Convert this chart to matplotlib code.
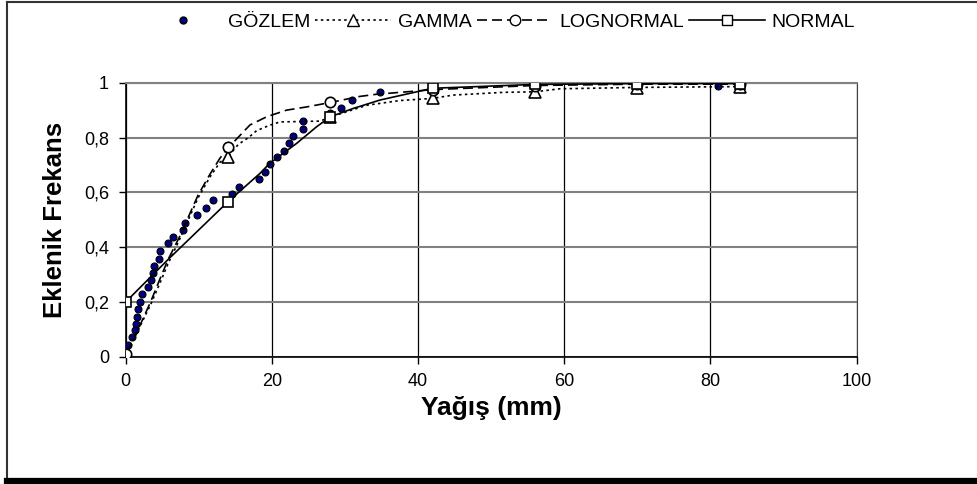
import matplotlib
matplotlib.use("Agg")
import matplotlib.pyplot as plt
from matplotlib.lines import Line2D

plt.rcParams['font.family'] = ['Liberation Sans', 'DejaVu Sans']

# observed cumulative frequencies
obs_x = [0, 0.3, 0.9, 1.2, 1.4, 1.6, 1.7, 1.9, 2.2, 3.0, 3.5, 3.7, 3.9, 4.5, 4.7,
         5.8, 6.5, 7.8, 8.1, 9.8, 11.0, 12.0, 14.5, 15.5, 18.3, 19.1, 19.8, 20.7,
         21.6, 22.3, 22.9, 24.2, 24.2, 28.0, 29.4, 31.0, 34.8, 81.0]
obs_y = [0.012, 0.043, 0.071, 0.097, 0.12, 0.146, 0.174, 0.2, 0.228, 0.256, 0.28,
         0.305, 0.331, 0.358, 0.386, 0.414, 0.436, 0.462, 0.489, 0.517, 0.544,
         0.572, 0.593, 0.618, 0.647, 0.674, 0.702, 0.728, 0.752, 0.779, 0.806,
         0.832, 0.861, 0.888, 0.907, 0.937, 0.965, 0.99]

# fitted distribution curves
gamma_x = [0, 1.7, 3.4, 4.7, 5.8, 7.4, 9.9, 11.5, 12.9, 14, 15.4, 16.8, 17.9, 19.7,
           21.1, 26.6, 28, 33, 37.5, 42, 44.8, 51.7, 56, 59.4, 70, 84]
gamma_y = [0, 0.097, 0.19, 0.27, 0.34, 0.43, 0.58, 0.655, 0.71, 0.73, 0.775, 0.80,
           0.825, 0.845, 0.857, 0.86, 0.875, 0.918, 0.935, 0.943, 0.955, 0.965,
           0.967, 0.978, 0.983, 0.986]
logn_x = [0, 1.7, 3.4, 4.7, 5.8, 7.4, 9.9, 11.5, 12.9, 14, 17, 19.3, 22, 24.8, 28,
          32, 34.3, 36.2, 42, 56, 70, 84]
logn_y = [0.01, 0.1, 0.2, 0.285, 0.355, 0.44, 0.59, 0.665, 0.725, 0.762, 0.846,
          0.876, 0.9, 0.912, 0.928, 0.95, 0.958, 0.962, 0.975, 0.99, 0.995, 0.995]
norm_x = [0, 5.8, 14, 18.4, 19.7, 23.4, 26.1, 28, 31.1, 34.8, 42, 47.1, 56, 70, 84]
norm_y = [0.2, 0.355, 0.566, 0.67, 0.706, 0.779, 0.839, 0.876, 0.906, 0.937, 0.98,
          0.985, 0.994, 0.997, 0.997]

# class marks where the fitted values are marked
mark_x = [0, 14, 28, 42, 56, 70, 84]
gamma_mark = [0, 0.73, 0.875, 0.943, 0.967, 0.982, 0.985]
logn_mark = [0.01, 0.765, 0.928, 0.975, 0.99, 0.995, 0.995]
norm_mark = [0.2, 0.566, 0.876, 0.98, 0.994, 0.997, 0.997]

x_ticks = [0, 20, 40, 60, 80, 100]
y_ticks = [0, 0.2, 0.4, 0.6, 0.8, 1.0]
y_ticklabels = ['0', '0,2', '0,4', '0,6', '0,8', '1']

fig = plt.figure(figsize=(9.77, 4.84), dpi=100)
ax = fig.add_axes([0.1287, 0.263, 0.748, 0.566])

ax.plot(obs_x, obs_y, ls='none', marker='o', ms=5, mfc='#000080', mec='black',
        mew=0.8, zorder=3)

ax.plot(gamma_x, gamma_y, color='black', ls=(0, (1.5, 2)), lw=1.2, zorder=4)
ax.plot(mark_x, gamma_mark, ls='none', marker='^', ms=8, mfc='white',
        mec='black', mew=1.2, zorder=5)
ax.plot(logn_x, logn_y, color='black', ls=(0, (6, 3)), lw=1.2, zorder=4)
ax.plot(mark_x, logn_mark, ls='none', marker='o', ms=7.5, mfc='white',
        mec='black', mew=1.2, zorder=5)
ax.plot(norm_x, norm_y, color='black', ls='-', lw=1.2, zorder=4)
ax.plot(mark_x, norm_mark, ls='none', marker='s', ms=7, mfc='white',
        mec='black', mew=1.2, zorder=5)

ax.set_xlim(0, 100)
ax.set_ylim(0, 1)
ax.set_xticks(x_ticks)
ax.set_yticks(y_ticks)
ax.set_yticklabels(y_ticklabels)
ax.tick_params(direction='out', length=5, width=1, labelsize=13, pad=7)
ax.yaxis.grid(True, color='#808080', lw=1.5)
ax.xaxis.grid(True, color='black', lw=0.9)
ax.set_axisbelow(True)
for side in ['left', 'bottom']:
    ax.spines[side].set_linewidth(1.2)
ax.spines['top'].set_color('#808080')
ax.spines['top'].set_linewidth(1.5)
ax.spines['right'].set_color('#404040')

ax.set_xlabel('Yağış (mm)', fontsize=19, fontweight='bold', labelpad=4)
ax.set_ylabel('Eklenik Frekans', fontsize=18.5, fontweight='bold', labelpad=12)

handles = [
    Line2D([], [], ls='none', marker='o', ms=5, mfc='#000080', mec='black'),
    Line2D([], [], color='black', ls=(0, (1.5, 2)), lw=1.2, marker='^', ms=8,
           mfc='white', mec='black'),
    Line2D([], [], color='black', ls=(0, (6, 3)), lw=1.2, marker='o', ms=7.5,
           mfc='white', mec='black'),
    Line2D([], [], color='black', ls='-', lw=1.2, marker='s', ms=7,
           mfc='white', mec='black'),
]
fig.legend(handles, ['GÖZLEM', 'GAMMA', 'LOGNORMAL', 'NORMAL'],
           loc='center', bbox_to_anchor=(0.512, 0.955), ncol=4, frameon=False,
           handlelength=3.9, handletextpad=0.35, columnspacing=0.25,
           prop={'size': 14})

# chart frame with heavy bottom edge
fig.add_artist(Line2D([0.0075, 0.0075], [0.01, 0.996], color='#333333', lw=1.5))
fig.add_artist(Line2D([0.0075, 1.0], [0.996, 0.996], color='#333333', lw=1.5))
fig.add_artist(Line2D([0.0075, 1.0], [0.006, 0.006], color='black', lw=4.5))

fig.savefig('out.png', dpi=100)
